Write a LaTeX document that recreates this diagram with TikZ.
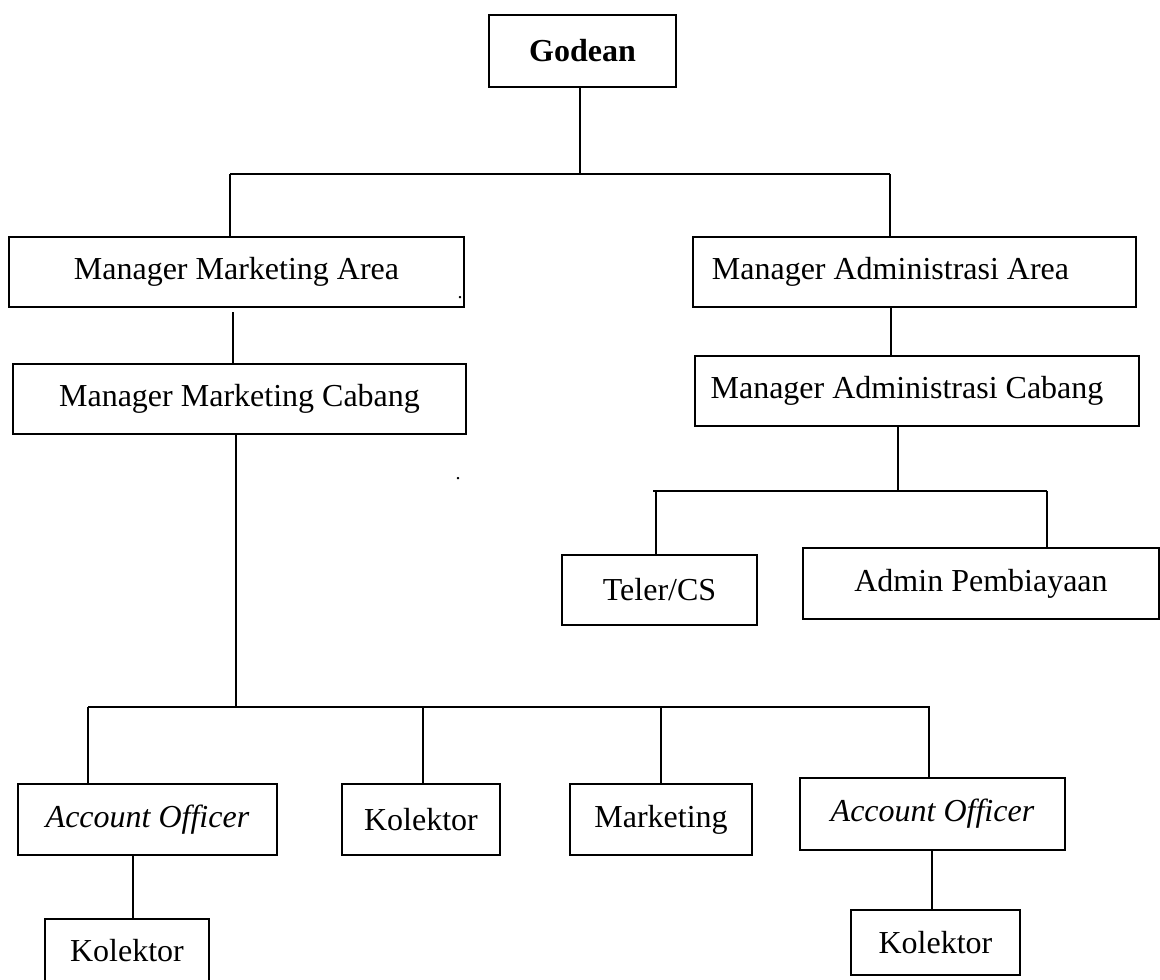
\documentclass[tikz,border=0pt]{standalone}
\usepackage{fontspec}
\setmainfont{Liberation Serif}
\usetikzlibrary{calc}

\begin{document}
\begin{tikzpicture}[x=1pt,y=-1pt,line width=1.3pt,
  unit/.style={draw,inner sep=0pt,minimum height=70pt,
    font=\fontsize{32}{38}\selectfont},
  dot/.style={inner sep=0pt,font=\fontsize{20}{24}\selectfont}]

\useasboundingbox (0,0) rectangle (1160,980);

% top
\node[unit,minimum width=187pt,minimum height=72pt] (godean) at (582.5,51) {\textbf{Godean}};

\node[unit,minimum width=455pt] (mma) at (236.5,272) {Manager Marketing Area};
\node[unit,minimum width=443pt] (maa) at (914.5,272) {Manager Administrasi Area\hspace*{48pt}};

\node[unit,minimum width=453pt] (mmc) at (239.5,399) {Manager Marketing Cabang};
\node[unit,minimum width=444pt] (mac) at (917,391) {Manager Administrasi Cabang\hspace*{20pt}};

% administrasi
\node[unit,minimum width=195pt] (teler) at (659.5,590) {Teler/CS};
\node[unit,minimum width=356pt,minimum height=71pt] (admin) at (981,583.5) {Admin Pembiayaan};

% marketing
\node[unit,minimum width=259pt,minimum height=71pt] (aoA) at (147.5,819.5) {\textit{Account Officer}};
\node[unit,minimum width=158pt,minimum height=71pt] (kolA) at (421,819.5) {Kolektor};
\node[unit,minimum width=182pt,minimum height=71pt] (mkt) at (661,819.5) {Marketing};
\node[unit,minimum width=265pt,minimum height=72pt] (aoB) at (932.5,814) {\textit{Account Officer}};

\node[unit,minimum width=164pt,minimum height=64pt] (kolB) at (127,951) {Kolektor};
\node[unit,minimum width=169pt,minimum height=65pt] (kolC) at (935.5,942.5) {Kolektor};

\node[dot] (dotA) at (460,298) {.};
\node[dot] (dotB) at (458,479) {.};

% bus lines
\coordinate (busA) at (230,174);
\coordinate (busB) at (890,174);
\coordinate (busC) at (653,491);
\coordinate (busD) at (1047,491);
\coordinate (busE) at (88,707);
\coordinate (busF) at (930,707);

\draw (godean.south -| 580,0) -- (580,174);
\draw (busA) -- (busB);
\draw (busA) -- (busA |- mma.north);
\draw (busB) -- (busB |- maa.north);

\draw (233,312) -- (233,0 |- mmc.north);
\draw (891,0 |- maa.south) -- (891,0 |- mac.north);

\draw (898,0 |- mac.south) -- (898,491);
\draw (busC) -- (busD);
\draw (656,491) -- (656,0 |- teler.north);
\draw (busD) -- (busD |- admin.north);

\draw (236,0 |- mmc.south) -- (236,707);
\draw (busE) -- (busF);
\draw (busE) -- (busE |- aoA.north);
\draw (423,707) -- (423,0 |- kolA.north);
\draw (661,707) -- (661,0 |- mkt.north);
\draw (929,707) -- (929,0 |- aoB.north);

\draw (133,0 |- aoA.south) -- (133,0 |- kolB.north);
\draw (932,0 |- aoB.south) -- (932,0 |- kolC.north);

\end{tikzpicture}
\end{document}
